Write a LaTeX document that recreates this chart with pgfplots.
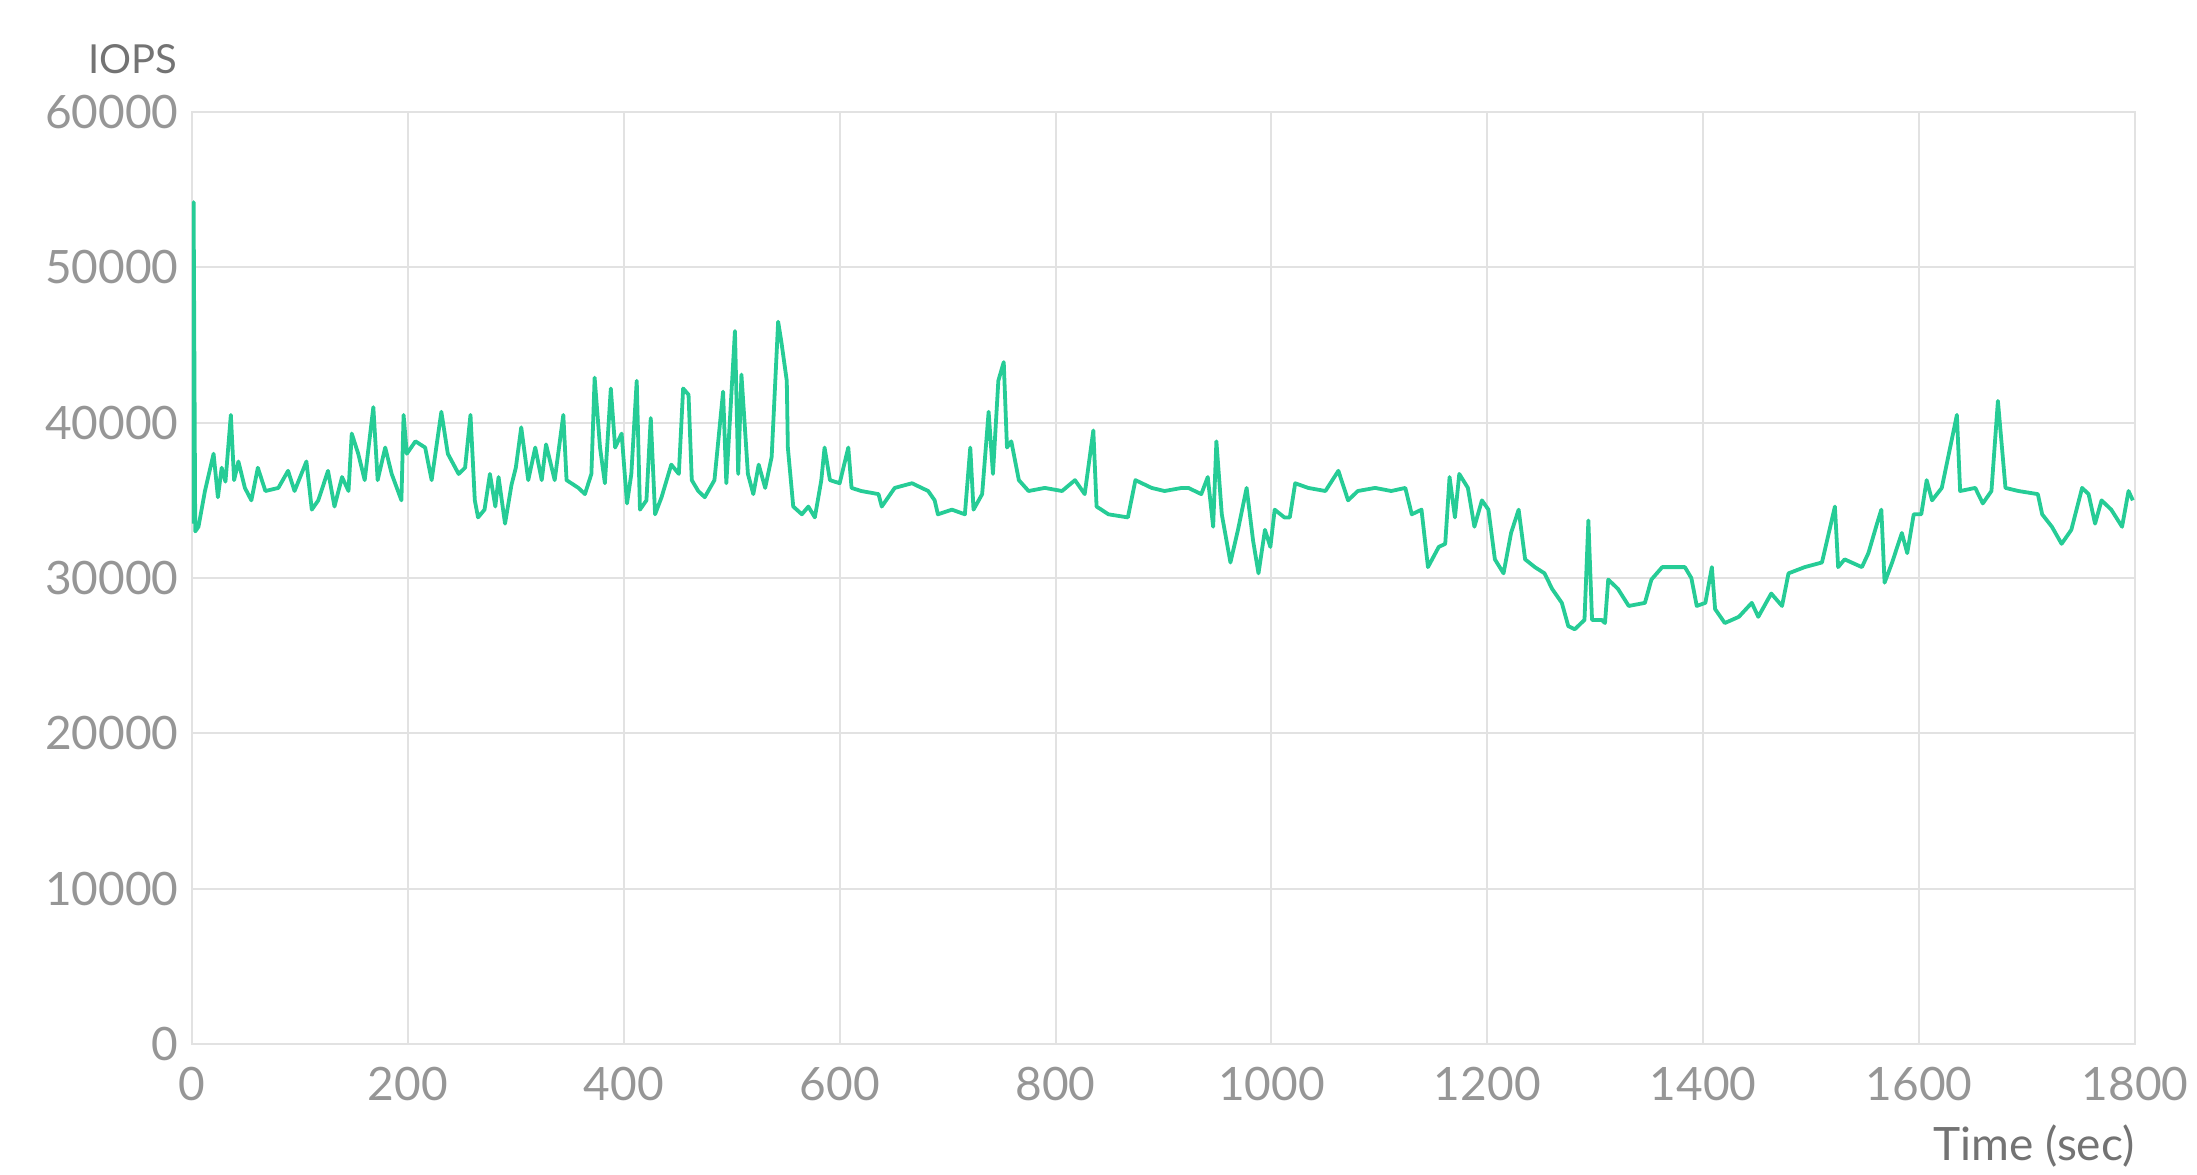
\documentclass[border=0pt]{standalone}
\usepackage{pgfplots}
\pgfplotsset{compat=1.18}
\usepackage{fontspec}
\setmainfont{Lato}
\definecolor{linegreen}{RGB}{38,204,150}
\definecolor{gridgray}{RGB}{226,226,226}
\definecolor{ticktext}{RGB}{150,150,150}
\definecolor{labeltext}{RGB}{115,115,115}
\begin{document}
\begin{tikzpicture}
\useasboundingbox (-96pt,-65pt) rectangle (1002.5pt,522pt);
\begin{axis}[
  at={(0,0)}, anchor=south west,
  scale only axis, width=971.5pt, height=466pt,
  xmin=0, xmax=1800, ymin=0, ymax=60000,
  xtick={0,200,...,1800}, ytick={0,10000,...,60000},
  scaled ticks=false,
  /pgf/number format/1000 sep={},
  /pgf/number format/assume math mode=true,
  grid=major,
  grid style={gridgray, line width=1pt},
  axis line style={gridgray, line width=1pt},
  major tick length=0pt,
  tick style={draw=none},
  ticklabel style={font=\fontsize{23}{23}\selectfont, text=ticktext, inner sep=0pt},
  yticklabel style={anchor=east, xshift=-6.5pt},
  xticklabel style={anchor=north, yshift=-11.5pt},
  xlabel={Time (sec)},
  xlabel style={at={(rel axis cs:1,0)}, anchor=north east, yshift=-40pt, inner sep=0pt,
    font=\fontsize{23}{23}\selectfont, text=labeltext},
  ylabel={IOPS},
  ylabel style={at={(rel axis cs:0,1)}, rotate=-90, anchor=south east, xshift=-7pt, yshift=19pt, inner sep=0pt,
    font=\fontsize{20}{20}\selectfont, text=labeltext},
]
\addplot[linegreen, line width=1.9pt, line join=round] coordinates {
(0,33500) (1.5,54200) (3,33000) (6,33300) (12,35600) (16,36800) (20,38000) (24,35200)
(27.5,37100) (31,36200) (36,40500) (39,36300) (43,37500) (49,35800) (55,35000) (61,37100)
(68,35600) (80,35800) (89,36900) (95,35600) (106,37500) (111,34400) (117,35000) (126,36900)
(132,34600) (139,36500) (145,35600) (148,39300) (154,38000) (160,36300) (168,41000) (172,36300)
(179,38400) (185,36700) (194,35000) (196,40500) (199,38000) (207,38800) (216,38400) (222,36300)
(231,40700) (237,38000) (247,36700) (253,37100) (258,40500) (262,35000) (265,33900) (271,34400)
(276,36700) (281,34600) (284,36500) (290,33500) (296,36000) (300,37100)
(305,39700) (311.5,36300) (318,38400) (324,36300) (328,38600) (336,36300) (344,40500) (347,36300)
(358,35800) (364,35400) (370,36700) (373,42900) (378,38400) (382.5,36100) (388,42200) (392,38400)
(398,39300) (403,34800) (407,36700) (412,42700) (415,34400) (421,35000) (425,40300) (429,34100)
(435,35200) (444,37300) (451,36700) (455,42200) (460,41800) (463,36300) (469,35600) (475,35200)
(484,36300) (492,42000) (495,36100) (503,45900) (506,36700) (509,43100) (515,36700) (520,35400)
(525,37300) (531,35800) (537,37800) (543,46500) (546,45200) (551,42700) (552,38400) (557,34600)
(565,34100) (571,34600) (577,33900) (583,36300) (586,38400) (591,36300) (600,36100) (608,38400)
(611,35800)
(620,35600) (636,35400) (639,34600) (651,35800) (667,36100) (682,35600) (688,35000) (691,34100)
(704,34400) (716,34100) (721,38400) (724,34400) (732,35400) (738,40700) (742,36700) (747,42700)
(752,43900) (755,38400) (759,38800) (766,36300) (775,35600) (790,35800) (806,35600) (818,36300)
(827,35400) (835,39500) (838,34600) (849,34100) (867,33900) (874,36300) (889,35800) (901,35600)
(917,35800)
(923,35800) (935,35400) (941,36500) (946,33300) (949,38800) (954,34100) (962,31000) (969,33100)
(977,35800) (983,32400) (988,30300) (994,33100) (999,32000) (1003,34400) (1012,33900) (1017,33900)
(1022,36100) (1034,35800) (1050,35600) (1062,36900) (1071,35000) (1080,35600) (1096,35800) (1111,35600)
(1124,35800) (1130,34100) (1139,34400) (1145,30700) (1155,32000) (1161,32200) (1165,36500) (1170,33900)
(1174,36700) (1182,35800) (1188,33300) (1195,35000) (1201,34400) (1207,31200) (1215,30300) (1222,32900)
(1229,34400) (1235,31200) (1244,30700) (1253,30300) (1260,29300) (1269,28400) (1275,26900) (1281,26700)
(1290,27300) (1293.6,33700) (1297,27300) (1306,27300) (1309,27100) (1312,29900) (1321,29300) (1331,28200)
(1346,28400) (1352,29900) (1362,30700) (1371,30700) (1383,30700) (1389,30000) (1394,28200) (1402,28400)
(1408,30700) (1411,28000) (1420,27100) (1433,27500) (1445,28400) (1451,27500) (1463,29000) (1473,28200)
(1479,30300) (1494,30700) (1510,31000) (1522,34600) (1525,30700) (1531,31200)
(1547,30700) (1553,31600) (1561,33500) (1565,34400) (1568,29700) (1575,31000) (1584,32900) (1589,31600)
(1595,34100) (1602,34100) (1607,36300) (1612,35000) (1621,35800) (1635,40500) (1638,35600) (1652,35800)
(1659,34800) (1667,35600) (1673,41400) (1680,35800) (1692,35600) (1710,35400) (1714,34100) (1723,33300)
(1732,32200) (1741,33100) (1751,35800) (1757,35400) (1763,33500) (1769,35000) (1778,34400) (1788,33300)
(1794,35600) (1798,35000)
};
\end{axis}
\end{tikzpicture}
\end{document}
